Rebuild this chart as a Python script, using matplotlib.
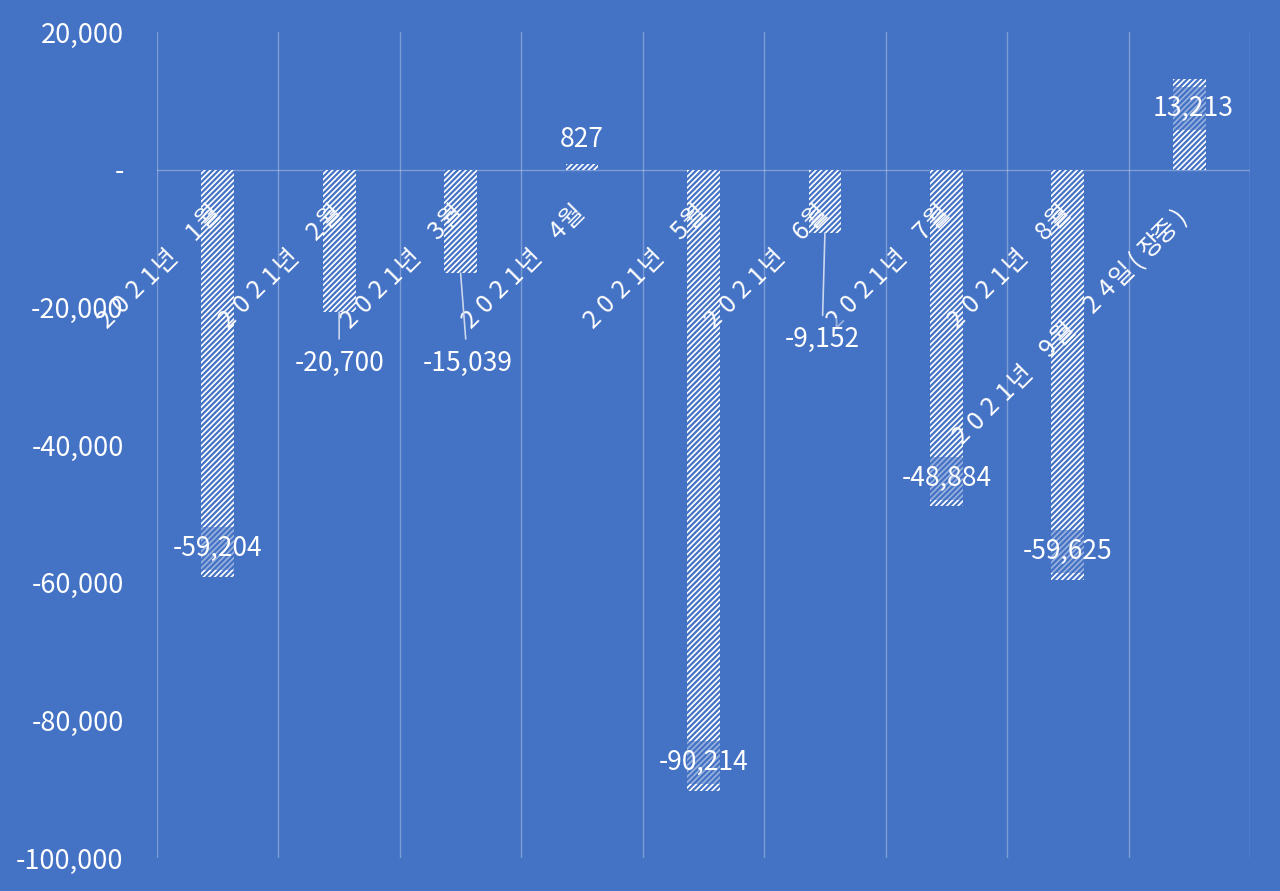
import matplotlib.pyplot as plt
import numpy as np

plt.rcParams['font.family'] = ['Noto Sans CJK KR', 'DejaVu Sans']
plt.rcParams['hatch.linewidth'] = 1.6

# 데이터
categories = ["2021년 1월", "2021년 2월", "2021년 3월", "2021년 4월", "2021년 5월",
              "2021년 6월", "2021년 7월", "2021년 8월", "2021년 9월 24일(장중)"]
values = [-59204, -20700, -15039, 827, -90214, -9152, -48884, -59625, 13213]

# 라벨 위치 (픽셀 오프셋), 리더선 여부
label_dx = [0, 0, 7, 0, 0, -3, 0, 0, 4]
label_dy = [29, -51, -90, 24, 28, -107, 28, 29, -30]
leader = [False, True, True, False, False, True, False, False, False]

bg = '#4472C4'
fig = plt.figure(figsize=(12.8, 8.91), dpi=100, facecolor=bg)
ax = fig.add_axes([157/1280, 1 - 858/891, (1250 - 157)/1280, (858 - 32)/891])
ax.set_facecolor(bg)

x = np.arange(len(values))
ax.bar(x, values, width=0.27, color='white', edgecolor=bg, hatch='//////', linewidth=0, zorder=3)

ax.set_xlim(-0.5, len(values) - 0.5)
ax.set_ylim(-100000, 20000)
yt = np.arange(-100000, 20001, 20000)
ax.set_yticks(yt)
ax.set_yticklabels(['-' if v == 0 else f'{v:,}' for v in yt], color='white', fontsize=19.5)
ax.tick_params(axis='y', length=0, pad=24)
ax.set_xticks([])

# 세로 격자선
for b in np.arange(-0.5, len(values), 1):
    ax.axvline(b, color='white', alpha=0.3, lw=1, zorder=1)
ax.axhline(0, color='white', alpha=0.3, lw=1, zorder=1)
for s in ax.spines.values():
    s.set_visible(False)

# 카테고리 라벨 (전각 간격으로 한 글자씩, 기준선 맞춤)
step = 20.6
d = np.array([np.cos(np.pi / 4), np.sin(np.pi / 4)])
for i, c in enumerate(categories):
    n = len(c)
    for k, ch in enumerate(c):
        if ch == ' ':
            continue
        off = np.array([-4, -52]) - d * step * (n - 1 - k)
        ax.annotate(ch, xy=(i, 0), xytext=(off[0], off[1]), textcoords='offset pixels',
                    rotation=45, rotation_mode='anchor', ha='center', va='baseline',
                    color='white', fontsize=18, zorder=5)

# 데이터 라벨
for i, v in enumerate(values):
    kw = dict(textcoords='offset pixels', ha='center', va='center', color='white', fontsize=19,
              bbox=dict(boxstyle='square,pad=0.3', fc=bg, ec='none', alpha=0.55), zorder=6)
    if leader[i]:
        kw['arrowprops'] = dict(arrowstyle='-', color='#C9D6EE', lw=1.2, shrinkA=2, shrinkB=0)
    ax.annotate(f'{v:,}', xy=(i, v), xytext=(label_dx[i], label_dy[i]), **kw)

fig.savefig('out.png', dpi=100, facecolor=bg)
